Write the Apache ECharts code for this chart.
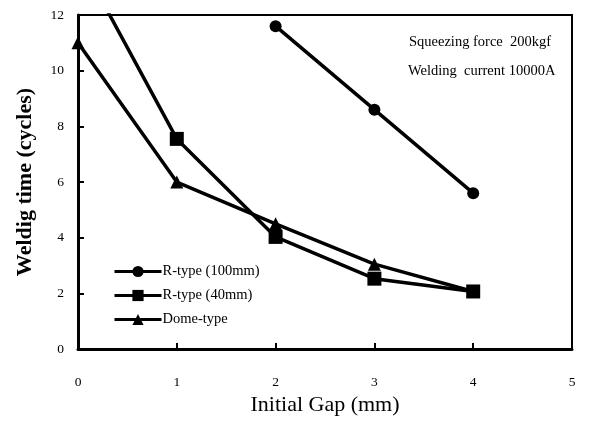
<!DOCTYPE html>
<html><head><meta charset="utf-8">
<script src="https://cdn.jsdelivr.net/npm/echarts@6/dist/echarts.min.js"></script>
<style>html,body{margin:0;padding:0;background:#fff}#c{width:589px;height:421px}</style>
</head><body><div id="c"></div>
<script>
const seriesNames = ['R-type (100mm)', 'R-type (40mm)', 'Dome-type'];
const r100 = [[2, 11.6], [3, 8.6], [4, 5.6]];
const r40 = [[0, 14.1], [1, 7.55], [2, 4.03], [3, 2.53], [4, 2.07]];
const dome = [[0, 11.0], [1, 6.0], [2, 4.5], [3, 3.05], [4, 2.07]];
const notes = ['Squeezing force  200kgf', 'Welding  current 10000A'];
const xTicks = [0, 1, 2, 3, 4, 5];
const yTicks = [0, 2, 4, 6, 8, 10, 12];

const F = "'Liberation Serif','Times New Roman',serif";
const chart = echarts.init(document.getElementById('c'), null, {renderer: 'canvas'});
const mk = (name, data, symbol, size) => ({
  name, type: 'line', data, symbol, symbolSize: size, showSymbol: true,
  lineStyle: {color: '#000', width: 3.5}, itemStyle: {color: '#000'},
  emphasis: {disabled: true}, clip: true, z: 3
});
chart.setOption({
  animation: false,
  backgroundColor: '#fff',
  grid: {left: 78, right: 17, top: 15, bottom: 66, show: true, borderColor: '#000', borderWidth: 2},
  xAxis: {
    type: 'value', min: 0, max: 5, interval: 1,
    name: 'Initial Gap (mm)', nameLocation: 'middle', nameGap: 43,
    nameTextStyle: {fontFamily: F, fontSize: 22, color: '#000'},
    axisLine: {show: true, lineStyle: {color: '#000', width: 3}},
    axisTick: {show: true, inside: true, length: 6, lineStyle: {color: '#000', width: 2}},
    axisLabel: {fontFamily: F, fontSize: 13.5, color: '#000', margin: 26,
      formatter: v => xTicks.includes(v) ? String(v) : ''},
    splitLine: {show: false}
  },
  yAxis: {
    type: 'value', min: 0, max: 12, interval: 2,
    name: 'Weldig time (cycles)', nameLocation: 'middle', nameGap: 42, nameRotate: 90,
    nameTextStyle: {fontFamily: F, fontSize: 22, fontWeight: 'bold', color: '#000'},
    axisLine: {show: true, lineStyle: {color: '#000', width: 3}},
    axisTick: {show: true, inside: true, length: 6, lineStyle: {color: '#000', width: 2}},
    axisLabel: {fontFamily: F, fontSize: 13.5, color: '#000', margin: 14,
      formatter: v => yTicks.includes(v) ? String(v) : ''},
    splitLine: {show: false}
  },
  legend: {
    orient: 'vertical', left: 108, top: 259, itemGap: 9, itemWidth: 47, itemHeight: 14,
    lineStyle: {width: 3},
    textStyle: {fontFamily: F, fontSize: 14.5, color: '#000', padding: [0, 0, 0, -4]},
    data: seriesNames
  },
  graphic: [
    {type: 'text', left: 409, top: 35, style: {text: notes[0], font: '14.5px ' + F, fill: '#000'}},
    {type: 'text', left: 408, top: 64, style: {text: notes[1], font: '14.5px ' + F, fill: '#000'}}
  ],
  series: [
    mk(seriesNames[0], r100, 'circle', 12),
    mk(seriesNames[1], r40, 'rect', 14),
    mk(seriesNames[2], dome, 'triangle', 13)
  ]
});
</script></body></html>
